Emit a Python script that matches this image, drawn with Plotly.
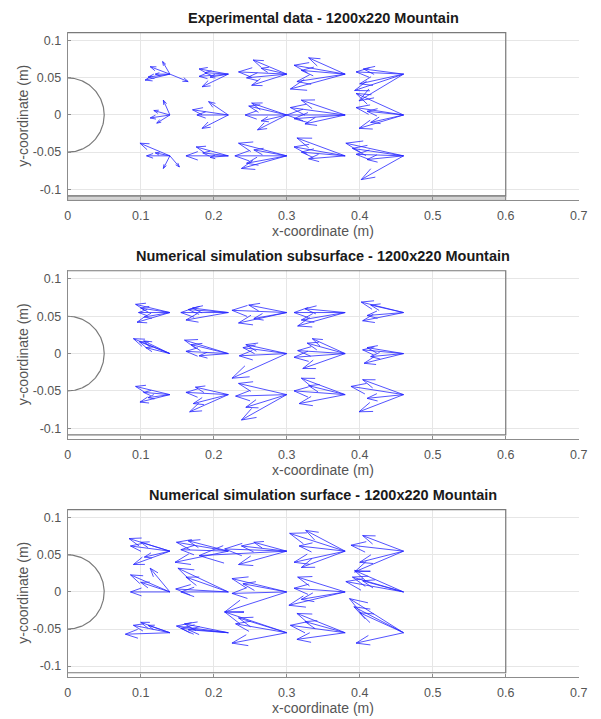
import numpy as np
import plotly.graph_objects as go

# ---------------- data ----------------
GRID_X = [0.14, 0.22, 0.30, 0.38, 0.46]
GRID_Y = [0.055, 0.0, -0.055]

TITLES = ["Experimental data - 1200x220 Mountain",
          "Numerical simulation subsurface - 1200x220 Mountain",
          "Numerical simulation surface - 1200x220 Mountain"]

X_TICKS = [0, 0.1, 0.2, 0.3, 0.4, 0.5, 0.6, 0.7]
X_TICK_TEXT = ["0", "0.1", "0.2", "0.3", "0.4", "0.5", "0.6", "0.7"]
Y_TICKS = [-0.1, -0.05, 0, 0.05, 0.1]
Y_TICK_TEXT = ["-0.1", "-0.05", "0", "0.05", "0.1"]

# velocity vectors (u, v) per measuring point, row-major (rows GRID_Y, cols GRID_X)
EXPERIMENTAL = [
    [(-0.034, -0.008), (-0.010, 0.017), (-0.027, 0.010), (-0.020, 0.0), (-0.030, -0.004), (0.025, -0.010)],
    [(-0.040, -0.003), (-0.036, -0.017), (-0.040, 0.007), (-0.025, -0.004), (-0.032, 0.002)],
    [(-0.046, 0.019), (-0.066, 0.003), (-0.048, -0.015), (-0.035, 0.008), (-0.055, -0.005)],
    [(-0.050, 0.022), (-0.066, -0.010), (-0.075, -0.020), (-0.060, 0.005), (-0.070, 0.012)],
    [(-0.065, 0.003), (-0.060, -0.013), (-0.067, -0.022), (-0.055, 0.007), (-0.061, -0.036)],
    [(-0.009, 0.020), (-0.027, -0.004), (-0.018, -0.011), (-0.022, 0.006)],
    [(-0.027, 0.018), (-0.049, 0.007), (-0.036, -0.018), (-0.043, 0.0)],
    [(-0.057, 0.0), (-0.048, 0.016), (-0.040, -0.020), (-0.052, 0.012), (-0.035, -0.008)],
    [(-0.075, 0.010), (-0.070, -0.005), (-0.060, 0.020), (-0.080, 0.0), (-0.055, -0.012)],
    [(-0.065, 0.029), (-0.061, -0.018), (-0.050, 0.005), (-0.065, 0.010), (-0.045, -0.010)],
    [(-0.041, 0.017), (0.013, -0.015), (-0.009, -0.017), (-0.032, 0.0), (-0.020, 0.004)],
    [(-0.058, 0.0), (-0.044, 0.012), (-0.035, 0.004), (-0.025, -0.002)],
    [(-0.066, 0.017), (-0.071, 0.0), (-0.062, -0.017), (-0.055, -0.010), (-0.045, 0.008)],
    [(-0.066, 0.024), (-0.060, 0.005), (-0.050, -0.004), (-0.070, 0.012)],
    [(-0.079, 0.017), (-0.065, 0.002), (-0.058, -0.032), (-0.070, 0.010), (-0.050, -0.005)],
]

SUBSURFACE = [
    [(-0.047, 0.011), (-0.045, -0.013), (-0.040, 0.006), (-0.043, 0.0), (-0.035, -0.006)],
    [(-0.065, 0.0), (-0.058, -0.010), (-0.049, 0.006), (-0.055, 0.004)],
    [(-0.075, 0.003), (-0.066, -0.014), (-0.052, 0.010), (-0.045, -0.008)],
    [(-0.065, -0.018), (-0.070, 0.0), (-0.060, -0.010), (-0.055, 0.005)],
    [(-0.058, 0.014), (-0.056, -0.011), (-0.045, 0.010), (-0.050, -0.004)],
    [(-0.050, 0.020), (-0.042, 0.016), (-0.033, 0.008), (-0.036, 0.017)],
    [(-0.060, 0.018), (-0.058, 0.003), (-0.051, 0.012), (-0.040, -0.003)],
    [(-0.060, 0.008), (-0.065, -0.003), (-0.056, 0.012), (-0.075, -0.033)],
    [(-0.052, 0.014), (-0.058, -0.020), (-0.065, 0.004), (-0.070, -0.005), (-0.045, 0.020)],
    [(-0.056, 0.005), (-0.054, -0.013), (-0.050, 0.008), (-0.045, -0.004)],
    [(-0.047, 0.011), (-0.041, -0.010), (-0.036, 0.003), (-0.030, -0.004)],
    [(-0.058, 0.003), (-0.053, -0.023), (-0.045, 0.010), (-0.048, -0.012)],
    [(-0.066, 0.015), (-0.062, -0.034), (-0.070, -0.002), (-0.056, -0.017)],
    [(-0.050, 0.012), (-0.063, -0.012), (-0.070, 0.005), (-0.060, 0.022)],
    [(-0.072, 0.011), (-0.061, -0.023), (-0.056, 0.020), (-0.050, -0.005)],
]

SURFACE = [
    [(-0.056, 0.017), (-0.054, 0.007), (-0.050, -0.018), (-0.040, 0.012), (-0.035, -0.008)],
    [(-0.071, 0.012), (-0.073, -0.015), (-0.055, 0.014), (-0.065, 0.002)],
    [(-0.120, -0.006), (-0.062, 0.007), (-0.066, -0.018), (-0.045, 0.012), (-0.085, 0.003)],
    [(-0.054, 0.028), (-0.063, 0.007), (-0.076, 0.024), (-0.070, -0.015), (-0.060, -0.022)],
    [(-0.072, 0.008), (-0.056, 0.021), (-0.067, -0.028), (-0.060, -0.015)],
    [(-0.054, 0.023), (-0.027, 0.032), (-0.054, 0.0), (-0.040, 0.013)],
    [(-0.069, 0.032), (-0.072, 0.004), (-0.058, 0.020), (-0.065, 0.0)],
    [(-0.075, 0.018), (-0.075, -0.002), (-0.060, 0.011), (-0.085, -0.027)],
    [(-0.065, 0.020), (-0.077, -0.018), (-0.070, 0.005), (-0.060, -0.010)],
    [(-0.079, 0.014), (-0.067, 0.029), (-0.056, 0.015), (-0.070, 0.020)],
    [(-0.061, -0.002), (-0.040, 0.014), (-0.050, 0.010), (-0.030, 0.010)],
    [(-0.071, 0.009), (-0.060, 0.012), (-0.055, 0.004), (-0.065, 0.006)],
    [(-0.085, 0.028), (-0.075, -0.014), (-0.066, 0.020), (-0.070, 0.012)],
    [(-0.066, 0.026), (-0.066, -0.009), (-0.075, 0.010), (-0.055, 0.015)],
    [(-0.074, 0.046), (-0.065, -0.014), (-0.060, 0.027), (-0.068, 0.035)],
]

DATASETS = [EXPERIMENTAL, SUBSURFACE, SURFACE]

CYL_RADIUS = 0.05
TANK_X = [0.0, 0.6]
TANK_Y = [-0.109, 0.111]
X_RANGE = [0.0, 0.7]
Y_RANGE = [-0.115, 0.112]

# ---------------- layout geometry (pixels) ----------------
W, H = 601, 719
X_DOM = [66 / W, 587.5 / W]
AX_PIX = [(31.8, 200.4), (270.0, 439.4), (508.9, 677.2)]  # (top, bottom) in px
TITLE_PIX = [18, 256, 495]

AXIS_GRAY = "#8c8c8c"
FONT = "Liberation Sans, Arial, sans-serif"


def quiver_segments(vectors_list):
    xs, ys = [], []
    alpha, beta = 0.28, 0.35
    for idx, vecs in enumerate(vectors_list):
        r, c = divmod(idx, len(GRID_X))
        x0, y0 = GRID_X[c], GRID_Y[r]
        for u, v in vecs:
            xt, yt = x0 + u, y0 + v
            xs += [x0, xt, None]
            ys += [y0, yt, None]
            h1x = xt - alpha * (u + beta * v)
            h1y = yt - alpha * (v - beta * u)
            h2x = xt - alpha * (u - beta * v)
            h2y = yt - alpha * (v + beta * u)
            xs += [h1x, xt, h2x, None]
            ys += [h1y, yt, h2y, None]
    return xs, ys


fig = go.Figure()
annotations = []

for i, data in enumerate(DATASETS):
    n = "" if i == 0 else str(i + 1)
    xa, ya = "x" + n, "y" + n
    top, bot = AX_PIX[i]

    # tank bottom band (experimental only filled)
    if i == 0:
        fig.add_trace(go.Scatter(
            x=[TANK_X[0], TANK_X[1], TANK_X[1], TANK_X[0], TANK_X[0]],
            y=[Y_RANGE[0], Y_RANGE[0], TANK_Y[0], TANK_Y[0], Y_RANGE[0]],
            fill="toself", fillcolor="#d4d4d4", mode="lines",
            line=dict(color="#a0a0a0", width=1), hoverinfo="skip",
            showlegend=False, xaxis=xa, yaxis=ya))

    # tank outline
    fig.add_trace(go.Scatter(
        x=[TANK_X[0], TANK_X[1], TANK_X[1], TANK_X[0]],
        y=[TANK_Y[1], TANK_Y[1], TANK_Y[0], TANK_Y[0]],
        mode="lines", line=dict(color="#7a7a7a", width=1.2),
        hoverinfo="skip", showlegend=False, xaxis=xa, yaxis=ya))

    # cylinder (semicircle)
    th = np.linspace(-np.pi / 2, np.pi / 2, 120)
    fig.add_trace(go.Scatter(
        x=CYL_RADIUS * np.cos(th), y=CYL_RADIUS * np.sin(th),
        mode="lines", line=dict(color="#7a7a7a", width=1.2),
        hoverinfo="skip", showlegend=False, xaxis=xa, yaxis=ya))

    # quiver arrows
    qx, qy = quiver_segments(data)
    fig.add_trace(go.Scatter(
        x=qx, y=qy, mode="lines",
        line=dict(color="rgba(40,40,255,0.8)", width=1),
        hoverinfo="skip", showlegend=False, xaxis=xa, yaxis=ya))

    y_dom = [1 - bot / H, 1 - top / H]
    axis_common = dict(showgrid=True, gridcolor="#e6e6e6", gridwidth=1,
                       zeroline=False, showline=True, linecolor=AXIS_GRAY,
                       linewidth=1, ticks="inside", ticklen=3,
                       tickcolor=AXIS_GRAY, mirror=False,
                       tickfont=dict(family=FONT, size=12.5, color="#555555"))
    fig.update_layout(**{
        ("xaxis" + n): dict(axis_common, domain=X_DOM, range=X_RANGE,
                            tickvals=X_TICKS, ticktext=X_TICK_TEXT,
                            anchor=ya, ticklabelstandoff=4),
        ("yaxis" + n): dict(axis_common, domain=y_dom, range=Y_RANGE,
                            tickvals=Y_TICKS, ticktext=Y_TICK_TEXT,
                            anchor=xa, ticklabelstandoff=3),
    })

    cx = (X_DOM[0] + X_DOM[1]) / 2
    annotations.append(dict(
        text="<b>" + TITLES[i] + "</b>", x=cx, y=1 - TITLE_PIX[i] / H,
        xref="paper", yref="paper", xanchor="center", yanchor="middle",
        showarrow=False, font=dict(family=FONT, size=14.5, color="#1a1a1a")))
    annotations.append(dict(
        text="x-coordinate (m)", x=cx, y=1 - (bot + 31) / H,
        xref="paper", yref="paper", xanchor="center", yanchor="middle",
        showarrow=False, font=dict(family=FONT, size=14, color="#555555")))
    annotations.append(dict(
        text="y-coordinate (m)", x=20 / W, y=1 - (top + bot) / 2 / H,
        xref="paper", yref="paper", xanchor="center", yanchor="middle",
        textangle=-90, showarrow=False,
        font=dict(family=FONT, size=14, color="#555555")))

fig.update_layout(
    width=W, height=H, margin=dict(l=0, r=0, t=0, b=0),
    paper_bgcolor="white", plot_bgcolor="white",
    annotations=annotations, showlegend=False,
)

fig.write_html("out.html")
